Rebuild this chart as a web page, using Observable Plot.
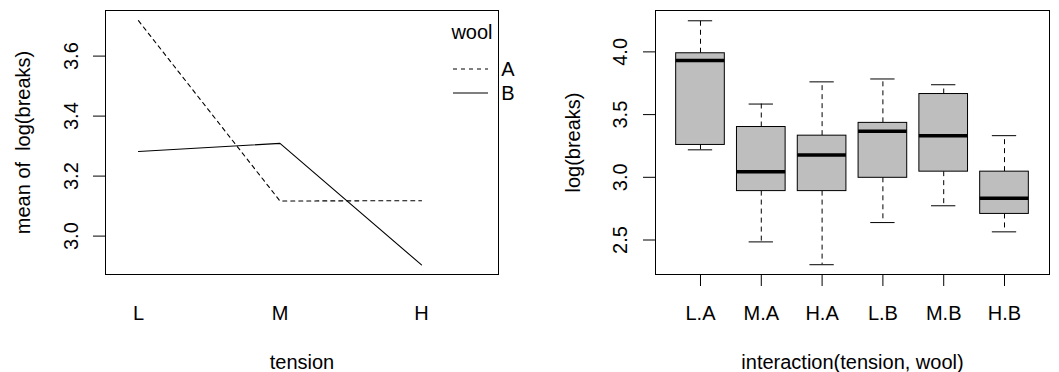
<!DOCTYPE html>
<html>
<head>
<meta charset="utf-8">
<script src="https://cdn.jsdelivr.net/npm/d3@7"></script>
<script src="https://cdn.jsdelivr.net/npm/@observablehq/plot@0.6"></script>
<style>
  html, body { margin: 0; padding: 0; background: #fff; }
  #wrap { display: flex; width: 1059px; height: 372px; }
  #wrap svg { display: block; }
</style>
</head>
<body>
<div id="wrap"></div>
<script>
// ---- data: interaction plot (left) ----
const tension = ["L", "M", "H"];
const woolLevels = ["A", "B"];
const meanA = [3.718, 3.117, 3.118];
const meanB = [3.282, 3.309, 2.904];
const leftYTicks = [3.0, 3.2, 3.4, 3.6];

// ---- data: boxplot (right) ----
const groups = ["L.A", "M.A", "H.A", "L.B", "M.B", "H.B"];
const whiskerLow  = [3.219, 2.485, 2.303, 2.639, 2.773, 2.565];
const hingeLow    = [3.258, 2.890, 2.890, 2.996, 3.045, 2.708];
const medians     = [3.932, 3.045, 3.178, 3.367, 3.332, 2.833];
const hingeHigh   = [3.989, 3.401, 3.332, 3.434, 3.664, 3.045];
const whiskerHigh = [4.248, 3.584, 3.761, 3.784, 3.738, 3.332];
const rightYTicks = [2.5, 3.0, 3.5, 4.0];

const FONT = "'Liberation Sans', Arial, Helvetica, sans-serif";
const FS = 20;

// build table for lines
const lineRows = [];
tension.forEach((t, i) => {
  lineRows.push({wool: "A", pos: i + 1, value: meanA[i]});
});
tension.forEach((t, i) => {
  lineRows.push({wool: "B", pos: i + 1, value: meanB[i]});
});

// legend as a custom render mark
function woolLegend(index, scales, values, dimensions) {
  const {width, marginRight, marginTop} = dimensions;
  const right = width - marginRight;
  const g = d3.create("svg:g")
    .attr("font-family", FONT)
    .attr("font-size", FS)
    .attr("fill", "black");
  g.append("text").attr("x", right - 26).attr("y", marginTop + 23)
    .attr("dy", "0.32em").attr("text-anchor", "middle").text("wool");
  woolLevels.forEach((w, i) => {
    const y = marginTop + 59 + i * 24;
    g.append("line").attr("x1", right - 45).attr("x2", right - 10)
      .attr("y1", y).attr("y2", y).attr("stroke", "black")
      .attr("stroke-width", 1)
      .attr("stroke-dasharray", w === "A" ? "4,4" : null);
    g.append("text").attr("x", right + 10).attr("y", y + 1)
      .attr("dy", "0.32em").text(w);
  });
  return g.node();
}

const left = Plot.plot({
  width: 530,
  height: 372,
  marginLeft: 105,
  marginRight: 32,
  marginTop: 10,
  marginBottom: 98,
  style: {fontFamily: FONT, fontSize: FS + "px", color: "black", background: "white", overflow: "visible"},
  x: {domain: [0.767, 3.544], axis: null},
  y: {domain: [2.872, 3.752], axis: null},
  marks: [
    Plot.axisY(leftYTicks, {anchor: "left", tickSize: 12, tickFormat: () => "", label: null, stroke: "black"}),
    Plot.text(leftYTicks, {y: d => d, text: d => d.toFixed(1), frameAnchor: "left", dx: -34, rotate: -90, textAnchor: "middle", lineAnchor: "middle", fontSize: FS, fill: "black"}),
    Plot.text(tension, {x: (d, i) => i + 1, text: d => d, frameAnchor: "bottom", dy: 39, lineAnchor: "middle", fontSize: FS, fill: "black"}),
    Plot.text(["tension"], {frameAnchor: "bottom", dy: 88, lineAnchor: "middle", fontSize: FS, fill: "black"}),
    Plot.text(["mean of \u00a0log(breaks)"], {frameAnchor: "left", dx: -82, rotate: -90, textAnchor: "middle", lineAnchor: "middle", fontSize: FS, fill: "black"}),
    Plot.line(lineRows.filter(d => d.wool === "A"), {x: "pos", y: "value", stroke: "black", strokeWidth: 1.1, strokeDasharray: "4,4"}),
    Plot.line(lineRows.filter(d => d.wool === "B"), {x: "pos", y: "value", stroke: "black", strokeWidth: 1.1}),
    Plot.frame({stroke: "black", strokeWidth: 1}),
    woolLegend
  ]
});

const idx = groups.map((g, i) => i);
const right = Plot.plot({
  width: 529,
  height: 372,
  marginLeft: 125,
  marginRight: 10,
  marginTop: 10,
  marginBottom: 98,
  style: {fontFamily: FONT, fontSize: FS + "px", color: "black", background: "white", overflow: "visible"},
  x: {domain: [0.26, 6.74], axis: null},
  y: {domain: [2.225, 4.33], axis: null},
  marks: [
    Plot.axisY(rightYTicks, {anchor: "left", tickSize: 12, tickFormat: () => "", label: null, stroke: "black"}),
    Plot.text(rightYTicks, {y: d => d, text: d => d.toFixed(1), frameAnchor: "left", dx: -35, rotate: -90, textAnchor: "middle", lineAnchor: "middle", fontSize: FS, fill: "black"}),
    Plot.axisX(idx.map(i => i + 1), {anchor: "bottom", tickSize: 12, tickFormat: () => "", label: null, stroke: "black"}),
    Plot.text(groups, {x: (d, i) => i + 1, text: d => d, frameAnchor: "bottom", dy: 39, lineAnchor: "middle", fontSize: FS, fill: "black"}),
    Plot.text(["interaction(tension, wool)"], {frameAnchor: "bottom", dy: 88, lineAnchor: "middle", fontSize: FS, fill: "black"}),
    Plot.text(["log(breaks)"], {frameAnchor: "left", dx: -82, rotate: -90, textAnchor: "middle", lineAnchor: "middle", fontSize: FS, fill: "black"}),
    // whiskers
    Plot.ruleX(idx, {x: i => i + 1, y1: i => hingeHigh[i], y2: i => whiskerHigh[i], stroke: "black", strokeWidth: 1, strokeDasharray: "5,4"}),
    Plot.ruleX(idx, {x: i => i + 1, y1: i => hingeLow[i], y2: i => whiskerLow[i], stroke: "black", strokeWidth: 1, strokeDasharray: "5,4"}),
    // caps
    Plot.ruleY(idx, {y: i => whiskerHigh[i], x1: i => i + 1 - 0.2, x2: i => i + 1 + 0.2, stroke: "black", strokeWidth: 1}),
    Plot.ruleY(idx, {y: i => whiskerLow[i], x1: i => i + 1 - 0.2, x2: i => i + 1 + 0.2, stroke: "black", strokeWidth: 1}),
    // boxes
    Plot.rect(idx, {x1: i => i + 1 - 0.4, x2: i => i + 1 + 0.4, y1: i => hingeLow[i], y2: i => hingeHigh[i], fill: "#BEBEBE", stroke: "black", strokeWidth: 1}),
    // medians
    Plot.ruleY(idx, {y: i => medians[i], x1: i => i + 1 - 0.4, x2: i => i + 1 + 0.4, stroke: "black", strokeWidth: 3.5}),
    Plot.frame({stroke: "black", strokeWidth: 1})
  ]
});

document.getElementById("wrap").append(left, right);
</script>
</body>
</html>
